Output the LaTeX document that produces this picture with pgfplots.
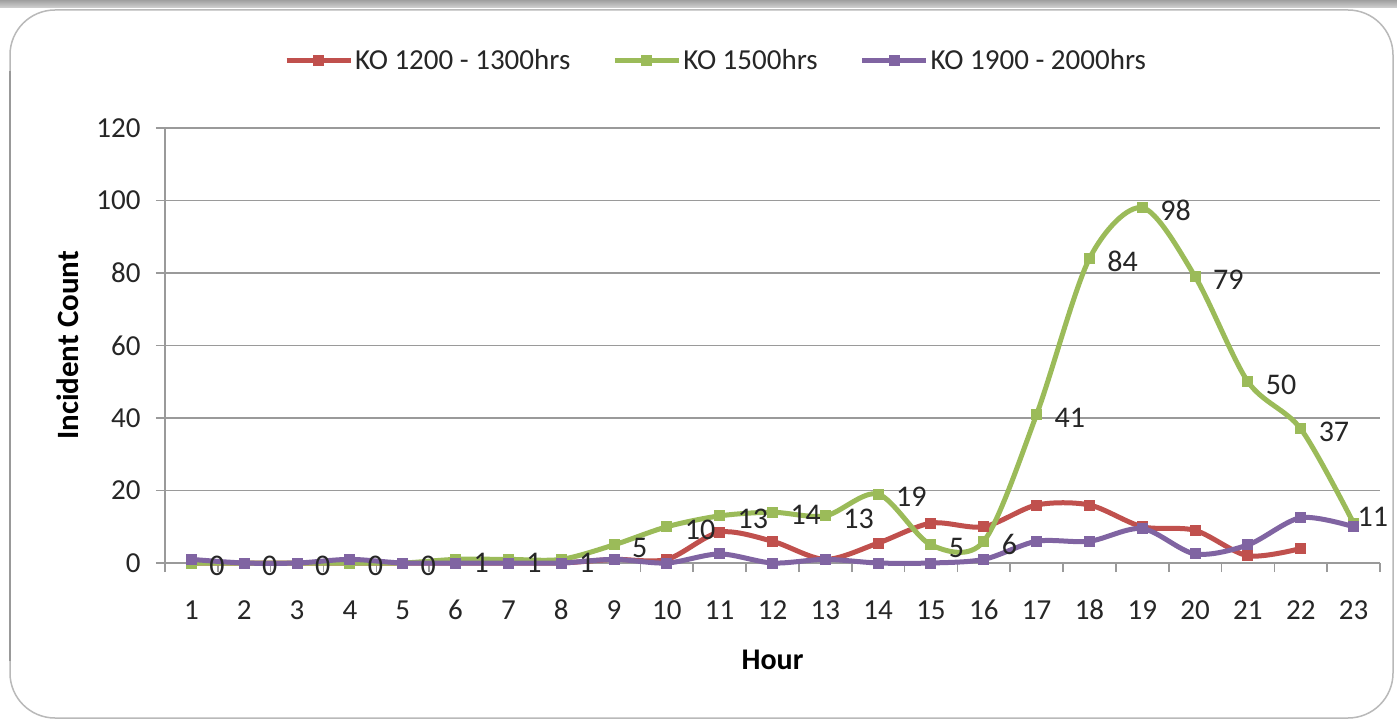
\documentclass[border=0pt]{standalone}
\usepackage{fontspec}
\setmainfont{Carlito}
\usepackage{pgfplots}
\usepackage{pgfplotstable}
\pgfplotsset{compat=1.18}

\definecolor{koRed}{HTML}{C0504D}
\definecolor{koGreen}{HTML}{9BBB59}
\definecolor{koPurple}{HTML}{8064A2}
\definecolor{axgray}{HTML}{9A9A9A}

% incidents per hour
\pgfplotstableread{
hour red green purple
1  0   0  1
2  0   0  0
3  0   0  0
4  0   0  1
5  0   0  0
6  0   1  0
7  0   1  0
8  0   1  0
9  1   5  1
10 1   10 0
11 8.5 13 2.5
12 6   14 0
13 1   13 1
14 5.5 19 0
15 11  5  0
16 10  6  1
17 16  41 6
18 16  84 6
19 10  98 9.5
20 9   79 2.5
21 2   50 5
22 4   37 12.5
23 nan 11 10
}\kodata

\begin{document}
\begin{tikzpicture}
\useasboundingbox (0,0) rectangle (1397pt,721pt);
% panel background
\fill[white] (0,0) rectangle (1397pt,721pt);
\shade[top color=gray!75, bottom color=gray!35] (0,713pt) rectangle (1397pt,721pt);
\draw[gray!55, line width=1.5pt, rounded corners=45pt] (10pt,3pt) rectangle (1393pt,711pt);
\draw[gray!80, line width=2.5pt] (10pt,60pt) -- (10pt,650pt);

\begin{axis}[
    at={(165pt,158pt)}, anchor=south west,
    scale only axis,
    width=1215pt, height=435pt,
    xmin=0.5, xmax=23.5,
    ymin=0, ymax=120,
    xtick={1,...,23},
    minor xtick={0.5,1.5,...,23.5},
    ytick={0,20,...,120},
    major x tick style={draw=none},
    tick align=outside,
    tick pos=left,
    minor tick length=9pt,
    major tick length=9pt,
    ymajorgrids,
    grid style={axgray, line width=1.6pt},
    axis line style={axgray, line width=1.6pt},
    tick style={axgray, line width=1.6pt},
    axis x line*=bottom,
    axis y line*=left,
    /pgf/number format/assume math mode=true,
    ticklabel style={font=\fontsize{29}{34}\selectfont, text=black!85},
    xticklabel style={yshift=-38pt, text height=0.63em, text depth=0pt},
    yticklabel style={xshift=-12pt},
    xlabel={\textbf{Hour}},
    ylabel={\textbf{Incident Count}},
    xlabel style={font=\fontsize{30}{36}\selectfont, at={(axis description cs:0.5,-0.223)}, anchor=center},
    ylabel style={font=\fontsize{31}{36}\selectfont, at={(axis description cs:-0.08,0.5)}, anchor=center, rotate=0},
    legend columns=3,
    legend style={draw=none, fill=none, at={(axis description cs:0.4535,1.156)}, anchor=center,
        font=\fontsize{29}{34}\selectfont,
        /tikz/every even column/.append style={column sep=40pt},
        nodes={inner sep=2pt, text=black!85}},
    legend cell align=left,
    legend image code/.code={
        \draw[mark repeat=2, mark phase=2] plot coordinates {(0pt,0pt) (32pt,0pt) (64pt,0pt)};
    },
    every axis plot/.append style={line width=5pt, smooth, tension=0.5,
        mark=square*, mark size=5pt, mark options={line width=0pt}},
    clip=false,
]
\addplot[koRed] table[x=hour, y=red] {\kodata};
\addlegendentry{KO 1200 - 1300hrs}
\addplot[koGreen,
    nodes near coords,
    visualization depends on={\thisrow{hour} \as \hr},
    nodes near coords style={font=\fontsize{30}{36}\selectfont, text=black!85,
        anchor=west, inner sep=0pt,
        xshift={ifthenelse(\hr>22.5,4,18)*1pt},
        yshift={ifthenelse(\hr>22.5,6,-3)*1pt}}
    ] table[x=hour, y=green] {\kodata};
\addlegendentry{KO 1500hrs}
\addplot[koPurple] table[x=hour, y=purple] {\kodata};
\addlegendentry{KO 1900 - 2000hrs}
\end{axis}
\end{tikzpicture}
\end{document}
